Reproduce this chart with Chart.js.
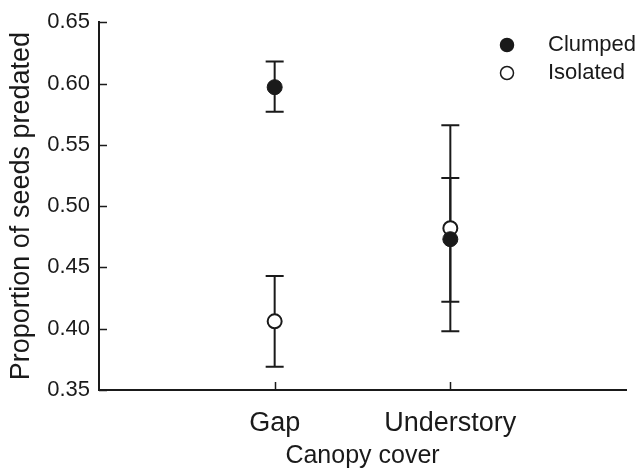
<!DOCTYPE html>
<html>
<head>
<meta charset="utf-8">
<script src="https://cdn.jsdelivr.net/npm/chart.js@4.4.1/dist/chart.umd.min.js"></script>
<style>
  body { margin: 0; background: #fff; }
  #wrap { width: 642px; height: 475px; }
</style>
</head>
<body>
<div id="wrap"><canvas id="myChart" width="642" height="475"></canvas></div>
<script>
// categories along x (placed at 1 and 2 on a 0..3 axis)
var categories = ["Gap", "Understory"];
var catPos = [1, 2];

// mean proportion of seeds predated, and error bar ends
var clumped = [0.597, 0.473];
var clumpedLo = [0.577, 0.422];
var clumpedHi = [0.618, 0.523];

var isolated = [0.406, 0.482];
var isolatedLo = [0.369, 0.398];
var isolatedHi = [0.443, 0.566];

var yTicks = [0.35, 0.40, 0.45, 0.50, 0.55, 0.60, 0.65];

var ink = "#1a1a1a";
var fontName = "'Liberation Sans', Arial, Helvetica, sans-serif";

function toPoints(vals) {
  var out = [];
  for (var i = 0; i < vals.length; i++) out.push({x: catPos[i], y: vals[i]});
  return out;
}

// error bars + inward ticks + legend, all from the arrays above
var extras = {
  id: "extras",
  beforeDatasetsDraw: function(chart) {
    var ctx = chart.ctx, xs = chart.scales.x, ys = chart.scales.y;
    var bars = [[clumpedLo, clumpedHi], [isolatedLo, isolatedHi]];
    ctx.save();
    ctx.strokeStyle = ink;
    ctx.lineWidth = 2;
    bars.forEach(function(b) {
      for (var i = 0; i < catPos.length; i++) {
        var px = xs.getPixelForValue(catPos[i]);
        var y1 = ys.getPixelForValue(b[0][i]);
        var y2 = ys.getPixelForValue(b[1][i]);
        ctx.beginPath();
        ctx.moveTo(px, y1); ctx.lineTo(px, y2);
        ctx.moveTo(px - 9, y1); ctx.lineTo(px + 9, y1);
        ctx.moveTo(px - 9, y2); ctx.lineTo(px + 9, y2);
        ctx.stroke();
      }
    });
    ctx.restore();
  },
  afterDraw: function(chart) {
    var ctx = chart.ctx, xs = chart.scales.x, ys = chart.scales.y;
    var area = chart.chartArea;
    ctx.save();
    ctx.strokeStyle = ink;
    ctx.lineWidth = 1.5;
    ctx.beginPath();
    yTicks.forEach(function(v) {
      var py = Math.round(ys.getPixelForValue(v)) + 0.5;
      ctx.moveTo(area.left, py); ctx.lineTo(area.left + 8, py);
    });
    catPos.forEach(function(v) {
      var px = Math.round(xs.getPixelForValue(v)) + 0.5;
      ctx.moveTo(px, area.bottom); ctx.lineTo(px, area.bottom - 8);
    });
    ctx.stroke();

    // legend
    var ds = chart.data.datasets;
    ctx.font = "22px " + fontName;
    ctx.textBaseline = "middle";
    ctx.textAlign = "left";
    for (var i = 0; i < ds.length; i++) {
      var ly = 45 + i * 28;
      ctx.beginPath();
      ctx.arc(507, ly, 6.5, 0, Math.PI * 2);
      ctx.fillStyle = ds[i].pointBackgroundColor;
      ctx.fill();
      ctx.lineWidth = 1.5;
      ctx.strokeStyle = ink;
      ctx.stroke();
      ctx.fillStyle = ink;
      ctx.fillText(ds[i].label, 548, ly);
    }
    ctx.restore();
  }
};

var ctx = document.getElementById('myChart').getContext('2d');
var chart = new Chart(ctx, {
  type: 'scatter',
  data: {
    datasets: [{
      label: "Clumped",
      data: toPoints(clumped),
      pointRadius: 7.5,
      pointBackgroundColor: ink,
      pointBorderColor: ink,
      pointBorderWidth: 1
    }, {
      label: "Isolated",
      data: toPoints(isolated),
      pointRadius: 7,
      pointBackgroundColor: "#ffffff",
      pointBorderColor: ink,
      pointBorderWidth: 2
    }]
  },
  plugins: [extras],
  options: {
    responsive: false,
    animation: false,
    events: [],
    layout: { padding: { top: 22, right: 16, left: 0, bottom: 0 } },
    plugins: { legend: { display: false }, tooltip: { enabled: false } },
    scales: {
      x: {
        type: 'linear',
        min: 0, max: 3,
        afterBuildTicks: function(scale) {
          scale.ticks = catPos.map(function(v) { return {value: v}; });
        },
        afterFit: function(scale) { scale.height = 85; },
        grid: { display: false, drawTicks: false },
        border: { display: true, color: ink, width: 2 },
        ticks: {
          padding: 17,
          color: ink,
          font: { family: fontName, size: 27 },
          callback: function(v) { return categories[catPos.indexOf(v)]; }
        },
        title: {
          display: true,
          text: "Canopy cover",
          color: ink,
          font: { family: fontName, size: 25 },
          padding: { top: 0, bottom: 4 }
        }
      },
      y: {
        min: 0.35, max: 0.65,
        afterBuildTicks: function(scale) {
          scale.ticks = yTicks.map(function(v) { return {value: v}; });
        },
        afterFit: function(scale) { scale.width = 99; },
        grid: { display: false, drawTicks: false },
        border: { display: true, color: ink, width: 2 },
        ticks: {
          padding: 9,
          color: ink,
          font: { family: fontName, size: 22 },
          callback: function(v) { return v.toFixed(2); }
        },
        title: {
          display: true,
          text: "Proportion of seeds predated",
          color: ink,
          font: { family: fontName, size: 27 },
          padding: { top: 5, bottom: 0 }
        }
      }
    }
  }
});
</script>
</body>
</html>
